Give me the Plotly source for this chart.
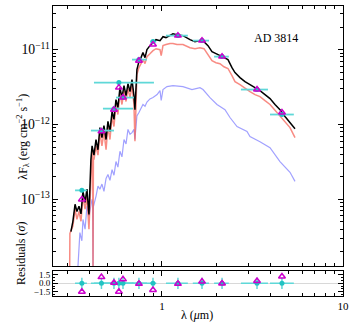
import plotly.graph_objects as go

# wavelength (um) / flux (1e-12 erg cm^-2 s^-1)
black_spec = [
    (0.314, 0.037), (0.322, 0.051), (0.331, 0.086), (0.339, 0.069), (0.348, 0.081),
    (0.357, 0.064), (0.366, 0.128), (0.376, 0.091), (0.385, 0.137), (0.395, 0.063),
    (0.405, 0.34), (0.411, 0.52), (0.421, 0.39), (0.432, 0.63), (0.443, 0.46),
    (0.454, 0.91), (0.466, 0.67), (0.478, 0.97), (0.491, 0.63), (0.503, 1.10),
    (0.516, 0.81), (0.530, 1.49), (0.543, 1.17), (0.557, 2.15), (0.571, 1.69),
    (0.586, 3.11), (0.601, 2.29), (0.617, 3.31), (0.633, 2.43), (0.649, 3.52),
    (0.666, 2.75), (0.683, 3.98), (0.700, 2.43), (0.709, 1.58), (0.727, 5.41),
    (0.746, 6.92), (0.766, 7.82), (0.785, 9.12), (0.806, 7.82), (0.826, 10.0),
    (0.858, 11.3), (0.892, 12.4), (0.927, 13.6), (0.975, 13.2), (1.013, 14.9),
    (1.052, 14.5), (1.107, 15.4), (1.150, 16.3), (1.210, 15.85), (1.306, 15.4),
    (1.428, 13.6), (1.522, 12.8), (1.621, 13.2), (1.706, 12.8), (1.795, 11.3),
    (1.889, 9.4), (1.988, 8.84), (2.091, 8.32), (2.200, 7.82), (2.315, 7.36),
    (2.436, 5.75), (2.531, 4.94), (2.697, 4.23), (2.874, 3.74), (3.063, 3.41),
    (3.265, 3.11), (3.478, 2.84), (3.708, 2.51), (3.952, 2.22), (4.210, 1.85),
    (4.486, 1.58), (4.782, 1.28), (5.096, 1.07), (5.431, 0.88),
]

red_spec = [
    (0.309, 0.010), (0.310, 0.035), (0.322, 0.044), (0.331, 0.074), (0.339, 0.054),
    (0.348, 0.069), (0.357, 0.051), (0.366, 0.11), (0.376, 0.074), (0.385, 0.11),
    (0.395, 0.040), (0.405, 0.25), (0.411, 0.44), (0.414, 0.42), (0.416, 0.012),
    (0.418, 0.36), (0.421, 0.34), (0.432, 0.52), (0.443, 0.39), (0.454, 0.78),
    (0.466, 0.52), (0.478, 0.81), (0.491, 0.46), (0.503, 0.94), (0.516, 0.63),
    (0.530, 1.28), (0.543, 0.94), (0.557, 1.85), (0.571, 1.36), (0.586, 2.67),
    (0.601, 1.85), (0.617, 2.84), (0.633, 2.03), (0.649, 3.02), (0.666, 2.29),
    (0.683, 3.31), (0.700, 1.85), (0.709, 0.60), (0.727, 4.64), (0.746, 5.75),
    (0.766, 6.5), (0.785, 7.36), (0.806, 6.5), (0.826, 8.07), (0.858, 8.8),
    (0.892, 9.7), (0.927, 10.3), (0.975, 10.0), (0.990, 8.3), (1.013, 11.3),
    (1.052, 11.7), (1.107, 12.1), (1.150, 12.1), (1.210, 11.7), (1.306, 11.7),
    (1.428, 10.6), (1.522, 10.3), (1.621, 10.6), (1.706, 10.3), (1.795, 8.6),
    (1.889, 7.1), (1.988, 6.7), (2.091, 6.5), (2.200, 5.9), (2.315, 5.6),
    (2.436, 4.5), (2.531, 3.74), (2.697, 3.41), (2.874, 3.02), (3.063, 2.75),
    (3.265, 2.51), (3.478, 2.36), (3.708, 2.08), (3.952, 1.85), (4.210, 1.55),
    (4.486, 1.30), (4.782, 1.07), (5.096, 0.91), (5.431, 0.67),
]

blue_spec = [
    (0.343, 0.012), (0.352, 0.036), (0.361, 0.028), (0.366, 0.054), (0.376, 0.040),
    (0.385, 0.081), (0.395, 0.060), (0.405, 0.090), (0.411, 0.10), (0.414, 0.09),
    (0.416, 0.012), (0.418, 0.08), (0.432, 0.11), (0.443, 0.15), (0.454, 0.137),
    (0.466, 0.16), (0.478, 0.128), (0.491, 0.19), (0.503, 0.215), (0.516, 0.18),
    (0.530, 0.25), (0.543, 0.21), (0.557, 0.32), (0.571, 0.27), (0.586, 0.44),
    (0.601, 0.37), (0.617, 0.63), (0.633, 0.55), (0.649, 0.86), (0.666, 0.74),
    (0.683, 0.78), (0.700, 0.86), (0.709, 0.63), (0.727, 1.30), (0.746, 1.45),
    (0.785, 1.85), (0.806, 1.75), (0.826, 2.0), (0.858, 2.2), (0.892, 2.29),
    (0.940, 2.51), (0.975, 2.84), (0.990, 2.1), (1.013, 2.93), (1.066, 3.21),
    (1.150, 3.31), (1.306, 3.21), (1.465, 2.93), (1.621, 3.11), (1.685, 2.93),
    (1.842, 2.29), (2.013, 1.85), (2.229, 1.58), (2.375, 1.24), (2.597, 0.94),
    (2.949, 0.81), (3.063, 0.69), (3.478, 0.59), (3.952, 0.49), (4.486, 0.32),
    (5.096, 0.23), (5.431, 0.174),
]

# photometry
phot_wl = [0.361, 0.463, 0.543, 0.578, 0.609, 0.746, 0.892, 1.225, 1.664, 2.147, 3.35, 4.60]
phot_lo = [0.331, 0.405, 0.472, 0.421, 0.557, 0.683, 0.860, 1.052, 1.480, 1.940, 2.73, 3.95]
phot_hi = [0.385, 0.543, 0.692, 0.903, 0.700, 0.826, 0.930, 1.390, 1.820, 2.340, 3.85, 5.35]
phot_flux = [0.132, 0.83, 1.63, 3.63, 2.29, 7.36, 12.8, 15.4, 13.2, 8.07, 2.93, 1.36]
model_flux = [0.100, 0.81, 1.58, 3.11, 2.29, 7.10, 11.7, 15.4, 13.2, 8.07, 2.93, 1.45]
resid = [-1.5, 1.1, 0.1, -1.5, 0.7, -0.1, -1.2, -0.1, 0.3, -0.05, 0.4, 1.2]
resid_err = [1, 1, 1, 1, 1, 1, 1, 1, 1, 1, 1, 1]

SCALE = 1e-12
FONT = "Liberation Serif, DejaVu Serif, serif"
CYAN = "#22c3c3"
CYAN_BAR = "#5fd8d8"
MAGENTA = "#cc00cc"


def unzip(spec):
    return [w for w, _ in spec], [f * SCALE for _, f in spec]


fig = go.Figure()

for spec, col, w in [
    (blue_spec, "rgba(110,110,255,0.65)", 1.2),
    (red_spec, "rgba(245,100,90,0.75)", 1.5),
    (black_spec, "black", 1.5),
]:
    x, y = unzip(spec)
    fig.add_trace(go.Scatter(x=x, y=y, mode="lines", line=dict(color=col, width=w),
                             xaxis="x", yaxis="y", showlegend=False))

ex_plus = [h - w for h, w in zip(phot_hi, phot_wl)]
ex_minus = [w - l for w, l in zip(phot_wl, phot_lo)]

fig.add_trace(go.Scatter(
    x=phot_wl, y=[f * SCALE for f in phot_flux], mode="markers",
    marker=dict(color=CYAN, size=5),
    error_x=dict(type="data", array=ex_plus, arrayminus=ex_minus,
                 color=CYAN_BAR, thickness=1.8, width=0),
    xaxis="x", yaxis="y", showlegend=False))
fig.add_trace(go.Scatter(
    x=phot_wl, y=[f * SCALE for f in model_flux], mode="markers",
    marker=dict(symbol="triangle-up-open", color=MAGENTA, size=6, line=dict(width=1.5)),
    xaxis="x", yaxis="y", showlegend=False))

# residuals
fig.add_trace(go.Scatter(
    x=phot_wl, y=[0] * len(phot_wl), mode="markers",
    marker=dict(color=CYAN, size=5),
    error_x=dict(type="data", array=ex_plus, arrayminus=ex_minus,
                 color=CYAN_BAR, thickness=1.5, width=0),
    error_y=dict(type="data", array=resid_err, color=CYAN_BAR, thickness=1.5, width=0),
    xaxis="x2", yaxis="y2", showlegend=False))
fig.add_trace(go.Scatter(
    x=phot_wl, y=resid, mode="markers",
    marker=dict(symbol="triangle-up-open", color=MAGENTA, size=6, line=dict(width=1.5)),
    xaxis="x2", yaxis="y2", showlegend=False))

axis_common = dict(showline=True, linecolor="black", linewidth=1, mirror="allticks",
                   ticks="inside", ticklen=5, tickcolor="black", showgrid=False,
                   automargin=False)
log_minor = dict(ticks="inside", ticklen=3, tickcolor="black", dtick="D1", showgrid=False)

fig.update_layout(
    width=357, height=325,
    margin=dict(l=53, r=14, t=6, b=29),
    paper_bgcolor="white", plot_bgcolor="white",
    font=dict(family=FONT, size=12, color="black"),
    xaxis=dict(type="log", range=[-0.602, 1.0], domain=[0, 1], anchor="y",
               dtick=1, showticklabels=False, minor=log_minor, zeroline=False,
               **axis_common),
    yaxis=dict(type="log", range=[-13.89, -10.417], domain=[0.1034, 1.0], anchor="x",
               dtick=1, exponentformat="power", minor=log_minor, zeroline=False,
               tickfont=dict(family=FONT, size=11, color="black"), **axis_common),
    xaxis2=dict(type="log", range=[-0.602, 1.0], domain=[0, 1], anchor="y2",
                dtick=1, minor=log_minor, zeroline=False,
                tickfont=dict(family=FONT, size=11, color="black"), **axis_common),
    yaxis2=dict(range=[-2.27, 2.1], domain=[0, 0.0845], anchor="x2",
                tickvals=[-1.5, 0, 1.5], tickformat=".1f",
                minor=dict(ticks="inside", ticklen=2, tickcolor="black", dtick=0.5),
                tickfont=dict(family=FONT, size=9, color="black"),
                zeroline=True, zerolinecolor="#d8d8d8", zerolinewidth=1, **axis_common),
    annotations=[
        dict(text="AD 3814", x=0.852, y=0.921, xref="paper", yref="paper",
             showarrow=False, font=dict(size=12)),
        dict(text="λF<sub>λ</sub> (erg cm<sup>−2</sup> s<sup>−1</sup>)", x=-0.141, y=0.548,
             xref="paper", yref="paper", showarrow=False, textangle=-90, font=dict(size=12)),
        dict(text="Residuals (<i>σ</i>)", x=-0.141, y=0.031, xref="paper", yref="paper",
             showarrow=False, textangle=-90, font=dict(size=12)),
        dict(text="λ (<i>μ</i>m)", x=0.497, y=-0.097, xref="paper", yref="paper",
             yanchor="bottom", showarrow=False, font=dict(size=12)),
    ],
)

# page body has a default 8px margin; drop it so the figure sits at the window corner
fig.write_html("out.html", config={"displayModeBar": False},
               post_script="document.body.style.margin='0';")
